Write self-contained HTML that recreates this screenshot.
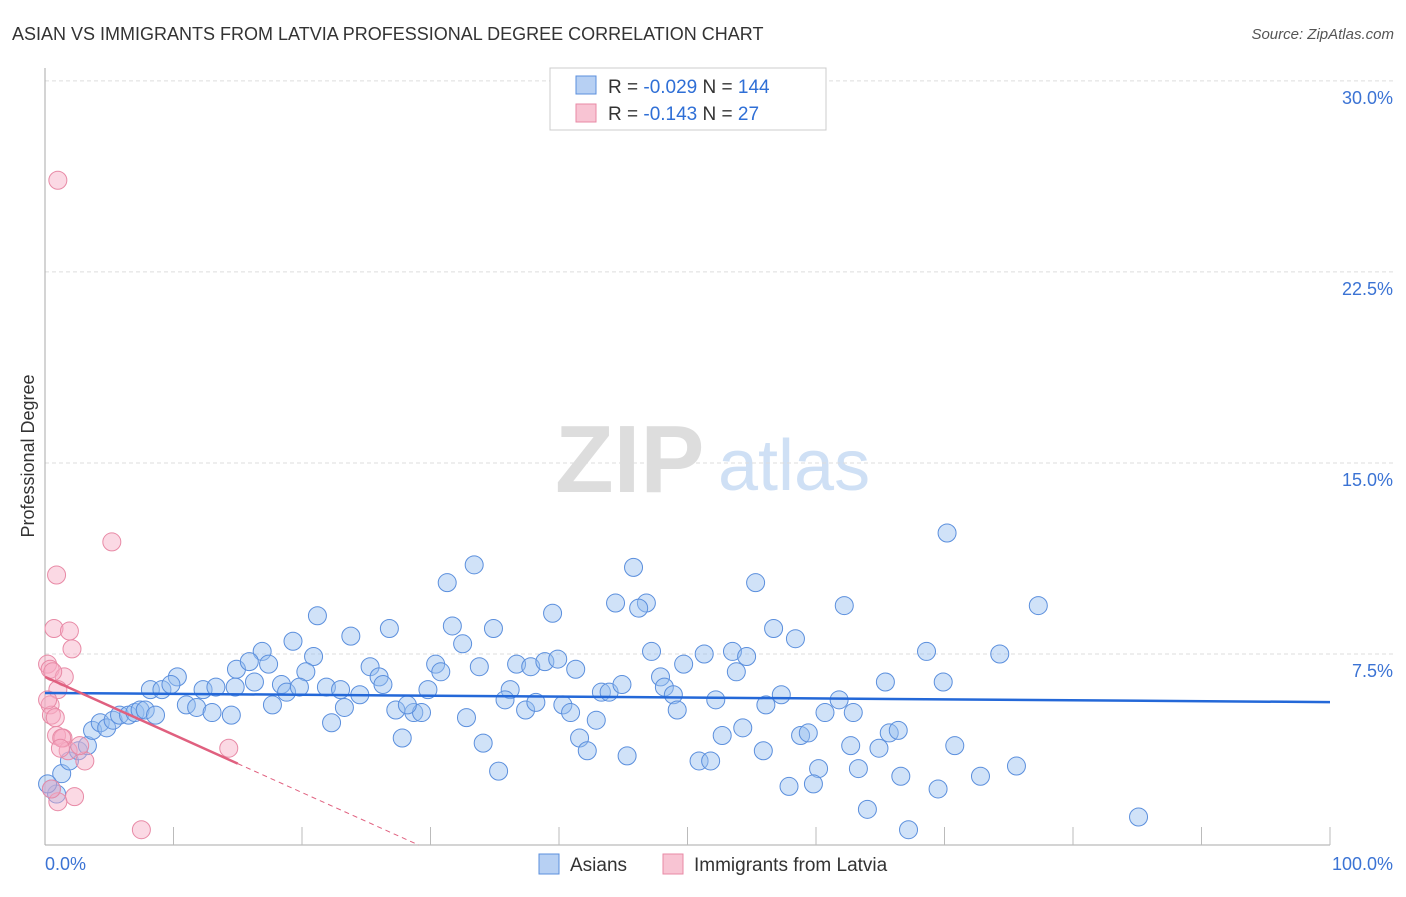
<!DOCTYPE html>
<html><head><meta charset="utf-8"><style>
body{margin:0;background:#fff;font-family:"Liberation Sans",sans-serif}
svg text{font-family:"Liberation Sans",sans-serif}
</style></head><body>
<svg width="1406" height="892" id="c">
<text x="12" y="40" font-size="18" fill="#333">ASIAN VS IMMIGRANTS FROM LATVIA PROFESSIONAL DEGREE CORRELATION CHART</text>
<text x="1394" y="39" font-size="15" fill="#555" text-anchor="end" font-style="italic">Source: ZipAtlas.com</text>
<text x="34" y="456" font-size="18" fill="#333" text-anchor="middle" transform="rotate(-90 34 456)">Professional Degree</text>
<g><text x="555" y="492" font-size="96" fill="#ddd" font-family="Liberation Serif" font-weight="bold">ZIP</text><text x="718" y="490" font-size="72" fill="#cfe0f5">atlas</text></g>
<g id="grid"></g><g id="pts"></g><g id="trend"></g>
<g>
<rect x="550" y="68" width="276" height="62" fill="#fff" stroke="#ccc"/>
<rect x="576" y="76" width="20" height="18" fill="#b7d0f3" stroke="#5b8fdd"/>
<rect x="576" y="104" width="20" height="18" fill="#f8c4d3" stroke="#e88aa6"/>
<text x="608" y="93" font-size="19" fill="#333">R = <tspan fill="#2f6fd6">-0.029</tspan>   N = <tspan fill="#2f6fd6">144</tspan></text>
<text x="608" y="120" font-size="19" fill="#333">R =  <tspan fill="#2f6fd6">-0.143</tspan>   N =  <tspan fill="#2f6fd6"> 27</tspan></text>
</g>
<g>
<rect x="539" y="854" width="20" height="20" fill="#b7d0f3" stroke="#5b8fdd"/>
<text x="570" y="871" font-size="19" fill="#333">Asians</text>
<rect x="663" y="854" width="20" height="20" fill="#f8c4d3" stroke="#e88aa6"/>
<text x="694" y="871" font-size="19" fill="#333">Immigrants from Latvia</text>
</g>
</svg>
<script>
const yTicks=[7.5,15,22.5,30];
const yTickLabels=["7.5%","15.0%","22.5%","30.0%"];
const xTickLabels=["0.0%","100.0%"];
const asiaX=[33.4,31.3,45.8,55.3,70.2,77.3,62.2,44.4,46.8,46.2,39.5,21.2,26.8,31.7,34.9,56.7,58.4,23.8,19.3,32.5,16.9,20.9,47.2,51.3,53.5,54.6,68.6,74.3,14.9,15.9,17.4,20.3,25.3,30.4,30.8,33.8,36.7,37.8,38.9,39.9,41.3,49.7,53.8,10.3,8.2,9.1,9.8,12.3,13.3,14.8,16.3,18.4,18.8,19.8,21.9,23.0,24.5,26.0,26.3,29.8,36.2,43.3,43.9,44.9,47.9,48.2,48.9,52.2,57.3,61.8,65.4,69.9,11.0,11.8,13.0,14.5,17.7,23.3,22.3,27.3,28.7,29.3,28.2,32.8,35.8,37.4,38.2,40.3,40.9,42.9,49.2,56.1,60.7,62.9,27.8,34.1,41.6,42.2,45.3,35.3,50.9,51.8,52.7,54.3,55.9,58.8,59.4,62.7,64.9,65.7,66.4,70.8,60.2,63.3,66.6,72.8,75.6,57.9,59.8,69.5,64.0,67.2,85.1,0.5,1.3,1.9,2.6,3.3,3.7,4.3,4.8,5.3,5.8,6.5,7.0,7.4,7.8,8.6,0.9,0.2];
const asiaY=[11.0,10.3,10.9,10.3,12.25,9.4,9.4,9.5,9.5,9.3,9.1,9.0,8.5,8.6,8.5,8.5,8.1,8.2,8.0,7.9,7.6,7.4,7.6,7.5,7.6,7.4,7.6,7.5,6.9,7.2,7.1,6.8,7.0,7.1,6.8,7.0,7.1,7.0,7.2,7.3,6.9,7.1,6.8,6.6,6.1,6.1,6.3,6.1,6.2,6.2,6.4,6.3,6.0,6.2,6.2,6.1,5.9,6.6,6.3,6.1,6.1,6.0,6.0,6.3,6.6,6.2,5.9,5.7,5.9,5.7,6.4,6.4,5.5,5.4,5.2,5.1,5.5,5.4,4.8,5.3,5.2,5.2,5.5,5.0,5.7,5.3,5.6,5.5,5.2,4.9,5.3,5.5,5.2,5.2,4.2,4.0,4.2,3.7,3.5,2.9,3.3,3.3,4.3,4.6,3.7,4.3,4.4,3.9,3.8,4.4,4.5,3.9,3.0,3.0,2.7,2.7,3.1,2.3,2.4,2.2,1.4,0.6,1.1,2.2,2.8,3.3,3.7,3.9,4.5,4.8,4.6,4.9,5.1,5.1,5.2,5.3,5.3,5.1,2.0,2.4];
const latX=[1.0,5.2,0.9,0.7,1.9,2.1,0.2,0.4,1.5,1.0,0.4,0.5,0.8,0.9,1.4,1.8,3.1,14.3,2.3,1.0,7.5,1.3,2.7,0.5,0.2,1.2,0.6];
const latY=[26.1,11.9,10.6,8.5,8.4,7.7,7.1,6.9,6.6,6.1,5.5,5.1,5.0,4.3,4.2,3.7,3.3,3.8,1.9,1.7,0.6,4.2,3.9,2.2,5.7,3.8,6.8];
const asiaTrend=[5.97,5.61];
const latTrend=[6.6,-0.227,15];
const NS="http://www.w3.org/2000/svg";
const X=v=>45+v*12.85, Y=v=>845-v*25.47;
function mk(t,a,p){const e=document.createElementNS(NS,t);for(const k in a)e.setAttribute(k,a[k]);p.appendChild(e);return e;}
const g=document.getElementById('grid');
yTicks.forEach((t,i)=>{
 const l=mk('line',{x1:45,x2:1393,y1:Y(t),y2:Y(t),stroke:'#ddd','stroke-dasharray':'4 3'},g);
 
 
 const tx=mk('text',{x:1393,y:Y(t)+23,'font-size':18,fill:'#3b73d4','text-anchor':'end'},g);tx.textContent=yTickLabels[i];
 
 
});
mk('line',{x1:45,x2:45,y1:68,y2:845,stroke:'#aaa'},g);
mk('line',{x1:45,x2:1330,y1:845,y2:845,stroke:'#aaa'},g);
for(let i=1;i<=10;i++){const l=mk('line',{x1:X(i*10),x2:X(i*10),y1:827,y2:845,stroke:'#bbb'},g);
 
 }
[[0,'start'],[100,'end']].forEach((d,i)=>{const t=mk('text',{x:i?1393:45,y:870,'font-size':18,fill:'#3b73d4','text-anchor':d[1]},g);t.textContent=xTickLabels[i];
 
 });
const p=document.getElementById('pts');
asiaX.forEach((x,i)=>{const c=mk('circle',{cx:X(x),cy:Y(asiaY[i]),r:9,fill:'rgba(150,190,240,0.45)',stroke:'#5b8fdd','stroke-width':1},p);
 
 });
latX.forEach((x,i)=>{const c=mk('circle',{cx:X(x),cy:Y(latY[i]),r:9,fill:'rgba(246,170,195,0.45)',stroke:'#e88aa6','stroke-width':1},p);
 
 });
const tr=document.getElementById('trend');
const a=mk('line',{x1:X(0),y1:Y(asiaTrend[0]),x2:X(100),y2:Y(asiaTrend[1]),stroke:'#2468d8','stroke-width':2.5},tr);


const lf=x=>latTrend[0]+latTrend[1]*x;
const b=mk('line',{x1:X(0),y1:Y(lf(0)),x2:X(latTrend[2]),y2:Y(lf(latTrend[2])),stroke:'#e0607f','stroke-width':2.5},tr);


const xe=-latTrend[0]/latTrend[1];
const d=mk('line',{x1:X(latTrend[2]),y1:Y(lf(latTrend[2])),x2:X(xe),y2:Y(0),stroke:'#e0607f','stroke-width':1,'stroke-dasharray':'5 4'},tr);


</script>
</body></html>
